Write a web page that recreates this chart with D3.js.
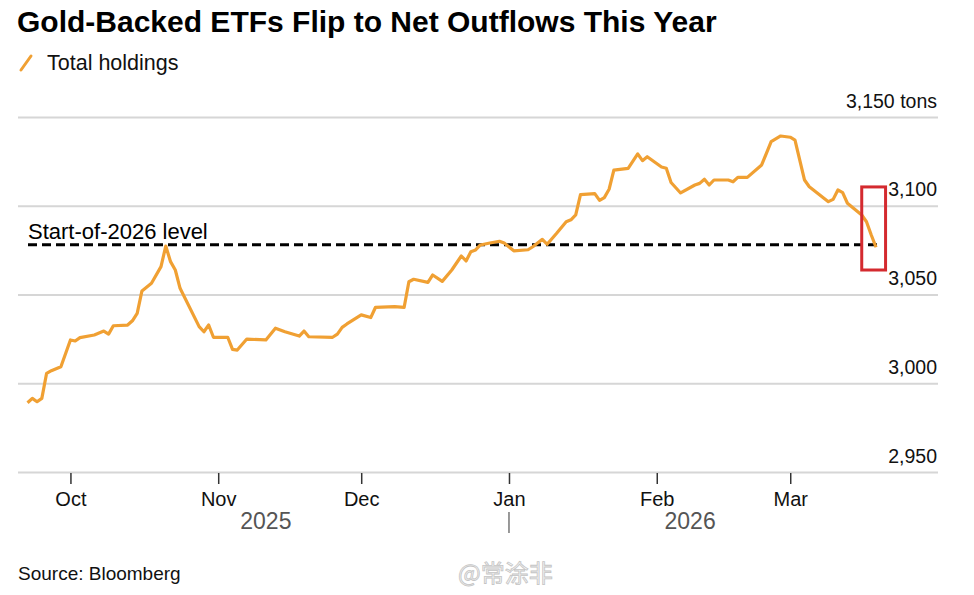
<!DOCTYPE html>
<html>
<head>
<meta charset="utf-8">
<script src="https://cdn.jsdelivr.net/npm/d3@7"></script>
<style>
  html, body { margin: 0; padding: 0; background: #fff; }
  svg { display: block; font-family: "Liberation Sans", Arial, sans-serif; }
</style>
</head>
<body>
<svg id="chart" width="974" height="595"></svg>
<script>
// ---- Data ----
const titleText = "Gold-Backed ETFs Flip to Net Outflows This Year";
const seriesName = "Total holdings";
const sourceText = "Source: Bloomberg";
const referenceLabel = "Start-of-2026 level";
const referenceLevel = 3078;

const dates = [
  "2025-09-22","2025-09-23","2025-09-24","2025-09-25","2025-09-26","2025-09-27","2025-09-29",
  "2025-10-01","2025-10-02","2025-10-03","2025-10-06","2025-10-08","2025-10-09","2025-10-10",
  "2025-10-13","2025-10-14","2025-10-15","2025-10-16","2025-10-18","2025-10-20","2025-10-21",
  "2025-10-22","2025-10-23","2025-10-24","2025-10-28","2025-10-29","2025-10-30","2025-10-31",
  "2025-11-03","2025-11-04","2025-11-05","2025-11-07","2025-11-11","2025-11-13","2025-11-15",
  "2025-11-18","2025-11-19","2025-11-20","2025-11-25","2025-11-26","2025-11-27","2025-11-28",
  "2025-12-01","2025-12-03","2025-12-04","2025-12-08","2025-12-10","2025-12-11","2025-12-12",
  "2025-12-15","2025-12-16","2025-12-18","2025-12-20","2025-12-22","2025-12-23","2025-12-24",
  "2025-12-25","2025-12-26","2025-12-28","2025-12-30","2025-12-31",
  "2026-01-02","2026-01-05","2026-01-06","2026-01-08","2026-01-09","2026-01-11","2026-01-13",
  "2026-01-14","2026-01-15","2026-01-16","2026-01-19","2026-01-20","2026-01-21","2026-01-22",
  "2026-01-23","2026-01-26","2026-01-28","2026-01-29","2026-01-30",
  "2026-02-02","2026-02-03","2026-02-04","2026-02-06","2026-02-09","2026-02-10","2026-02-11",
  "2026-02-12","2026-02-13","2026-02-16","2026-02-17","2026-02-18","2026-02-20","2026-02-23",
  "2026-02-24","2026-02-25","2026-02-27",
  "2026-03-01","2026-03-02","2026-03-04","2026-03-05","2026-03-09","2026-03-10","2026-03-11",
  "2026-03-12","2026-03-13","2026-03-16","2026-03-17","2026-03-18","2026-03-19"
];
const holdings = [
  2989.0,2991.5,2989.6,2991.5,3005.6,3007.1,3009.3,
  3024.4,3023.8,3025.7,3027.2,3029.4,3027.7,3032.4,
  3032.8,3035.2,3039.4,3052.0,3056.3,3065.7,3077.3,
  3068.5,3063.8,3053.5,3031.9,3029.0,3032.8,3025.9,
  3025.9,3019.1,3018.7,3024.9,3024.4,3031.0,3029.0,
  3026.6,3029.4,3026.2,3025.9,3027.7,3031.5,3033.4,
  3038.5,3037.0,3042.8,3043.2,3042.7,3057.2,3058.6,
  3056.8,3061.0,3057.4,3063.8,3071.7,3068.9,3074.1,
  3075.1,3077.9,3079.0,3080.0,3079.0,
  3074.6,3075.2,3076.9,3081.1,3078.3,3084.5,3091.0,
  3092.1,3094.8,3106.3,3106.8,3103.0,3104.6,3109.3,
  3120.1,3121.1,3129.2,3125.4,3127.6,
  3121.8,3121.1,3113.1,3107.2,3111.7,3112.6,3114.9,
  3111.7,3114.5,3114.5,3113.5,3116.0,3116.0,3123.0,
  3129.5,3136.1,3139.3,
  3138.6,3137.0,3114.5,3110.7,3102.3,3103.6,3108.9,
  3107.4,3101.4,3094.8,3091.0,3083.5,3076.6
];
const yTicks = [2950, 3000, 3050, 3100, 3150];
const monthTicks = ["2025-10-01","2025-11-01","2025-12-01","2026-01-01","2026-02-01","2026-03-01"];
const monthLabels = ["Oct","Nov","Dec","Jan","Feb","Mar"];
const yearLabels = ["2025","2026"];
const yearCenters = ["2025-11-11","2026-02-08"];
const yearDivider = "2026-01-01";
const highlightDates = ["2026-03-16","2026-03-21"];
const highlightValues = [3110.6, 3063.8];

// ---- Layout ----
const parse = d3.timeParse("%Y-%m-%d");
const svg = d3.select("#chart");
const x = d3.scaleTime()
  .domain([parse("2025-09-20"), parse("2026-04-01")])
  .range([18, 938]);
const y = d3.scaleLinear().domain([2950, 3150]).range([472, 117]);

const data = dates.map((d, i) => ({ date: parse(d), value: holdings[i] }));

// Title
svg.append("text")
  .attr("x", 17).attr("y", 32)
  .attr("font-size", 30).attr("font-weight", "bold")
  .attr("fill", "#000")
  .text(titleText);

// Legend
svg.append("line")
  .attr("x1", 21).attr("y1", 70).attr("x2", 31).attr("y2", 56)
  .attr("stroke", "#f0a033").attr("stroke-width", 3).attr("stroke-linecap", "round");
svg.append("text")
  .attr("x", 47).attr("y", 70)
  .attr("font-size", 21.5).attr("fill", "#111")
  .text(seriesName);

// Gridlines and right labels
const yAxis = d3.axisRight(y)
  .tickValues(yTicks)
  .tickSize(920)
  .tickFormat(d => d3.format(",")(d) + (d === 3150 ? " tons" : ""));
const gy = svg.append("g").attr("transform", "translate(18,0)").call(yAxis);
gy.select(".domain").remove();
gy.selectAll(".tick line").attr("stroke", "#d6d6d6").attr("stroke-width", 2);
gy.selectAll(".tick text")
  .attr("x", 919).attr("dy", -10)
  .attr("text-anchor", "end")
  .attr("font-size", 19.5).attr("fill", "#111")
  .attr("font-family", "'Liberation Sans', Arial, sans-serif");

// X axis ticks
const xAxis = d3.axisBottom(x)
  .tickValues(monthTicks.map(parse))
  .tickSize(11).tickPadding(8)
  .tickFormat((d, i) => monthLabels[i]);
const gx = svg.append("g").attr("transform", "translate(0,473)").call(xAxis);
gx.select(".domain").remove();
gx.selectAll(".tick line").attr("stroke", "#333").attr("stroke-width", 1.5);
gx.selectAll(".tick text")
  .attr("font-size", 20).attr("fill", "#111")
  .attr("font-family", "'Liberation Sans', Arial, sans-serif");

// Year labels
svg.selectAll(".year").data(yearLabels).enter().append("text")
  .attr("class", "year")
  .attr("x", (d, i) => x(parse(yearCenters[i])))
  .attr("y", 529)
  .attr("text-anchor", "middle")
  .attr("font-size", 23).attr("fill", "#555")
  .text(d => d);
svg.append("line")
  .attr("x1", x(parse(yearDivider))).attr("x2", x(parse(yearDivider)))
  .attr("y1", 512).attr("y2", 533)
  .attr("stroke", "#555").attr("stroke-width", 1.2);

// Reference dashed line
svg.append("line")
  .attr("x1", 28).attr("x2", x(data[data.length - 1].date) + 2)
  .attr("y1", y(referenceLevel)).attr("y2", y(referenceLevel))
  .attr("stroke", "#000").attr("stroke-width", 3)
  .attr("stroke-dasharray", "9,5");
svg.append("text")
  .attr("x", 28).attr("y", y(referenceLevel) - 6)
  .attr("font-size", 22).attr("fill", "#000")
  .text(referenceLabel);

// Line
const line = d3.line().x(d => x(d.date)).y(d => y(d.value));
svg.append("path")
  .datum(data)
  .attr("fill", "none")
  .attr("stroke", "#f0a033")
  .attr("stroke-width", 3.2)
  .attr("stroke-linejoin", "round")
  .attr("d", line);

// Highlight box
const bx0 = x(parse(highlightDates[0])), bx1 = x(parse(highlightDates[1]));
const by0 = y(highlightValues[0]), by1 = y(highlightValues[1]);
svg.append("rect")
  .attr("x", bx0).attr("y", by0)
  .attr("width", bx1 - bx0).attr("height", by1 - by0)
  .attr("fill", "none").attr("stroke", "#d42a2f").attr("stroke-width", 3);

// Source
svg.append("text")
  .attr("x", 18).attr("y", 580)
  .attr("font-size", 19).attr("fill", "#111")
  .text(sourceText);

// Watermark
svg.append("text")
  .attr("x", 458).attr("y", 582)
  .attr("font-size", 24)
  .attr("font-family", "'Noto Sans CJK SC', sans-serif")
  .attr("fill", "#f4f4f4").attr("stroke", "#c4c4c4").attr("stroke-width", 0.8)
  .text("@常涂非");
</script>
</body>
</html>
